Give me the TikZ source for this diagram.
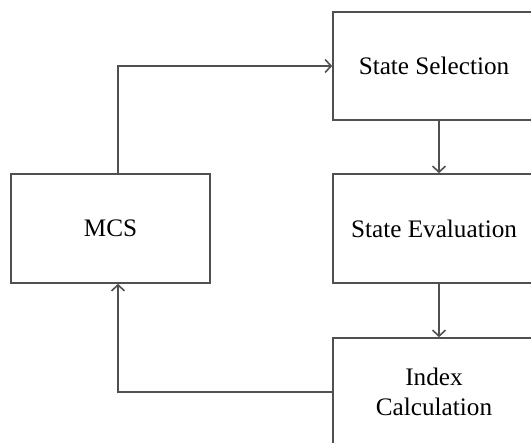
\documentclass[tikz,border=0pt]{standalone}
\usepackage{fontspec}
\setmainfont{Liberation Serif}
\usepackage{xcolor}
\usepackage{tikz}
\usetikzlibrary{positioning,arrows.meta}

\definecolor{linegray}{HTML}{505050}
\tikzset{
  block/.style={draw=linegray,thick,fill=white,align=center,
    font=\fontsize{12.6}{15}\selectfont,inner sep=0pt},
  flow/.style={thick,linegray,-{Straight Barb[length=3pt,width=6.5pt]}},
}

\begin{document}
\begin{tikzpicture}[x=0.5pt,y=-0.5pt]
    \useasboundingbox (0,0) rectangle (531,443);
    \clip (0,0) rectangle (531,443);
    % blocks
    \node[block,minimum width=99.5pt,minimum height=54.5pt] (mcs) at (110.5,228.5) {MCS};
    \node[block,minimum width=101pt,minimum height=54pt] (sel) at (434,66) {State Selection};
    \node[block,minimum width=101pt,minimum height=54.5pt] (eval) at (434,228.5) {State Evaluation};
    \node[block,minimum width=101pt,minimum height=54pt] (idx) at (434,392) {Index\\Calculation};
    % arrow positions
    \coordinate (ax) at (439,0);
    \coordinate (lx) at (118,0);
    % connectors
    \draw[flow] (mcs.north -| lx) |- (sel.west);
    \draw[flow] (sel.south -| ax) -- (eval.north -| ax);
    \draw[flow] (eval.south -| ax) -- (idx.north -| ax);
    \draw[flow] (idx.west) -| (mcs.south -| lx);
  \end{tikzpicture}
\end{document}
